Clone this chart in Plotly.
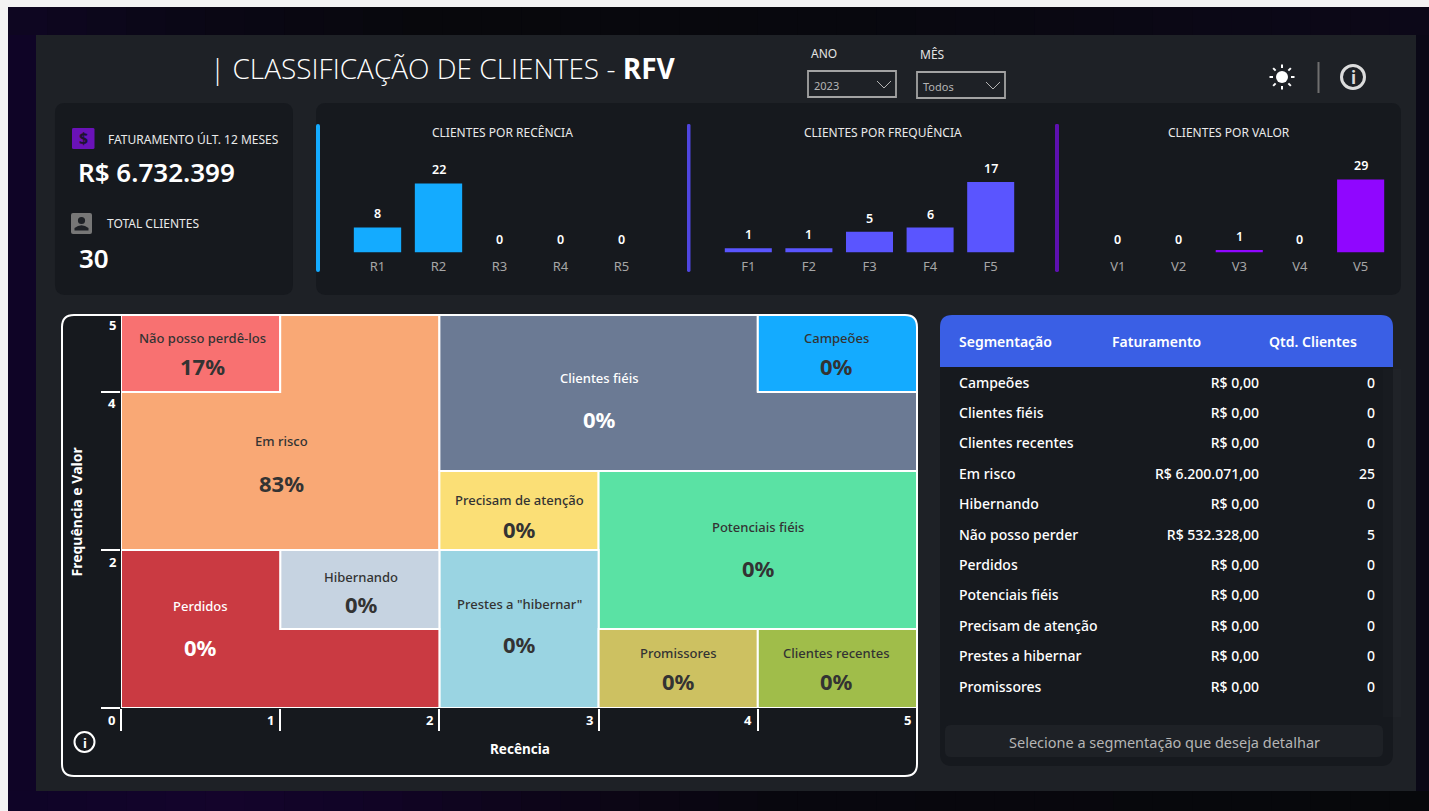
import math
import plotly.graph_objects as go

W, H = 1429, 811
SANS = "Noto Sans"

# ---------- data ----------
rec_cats = ["R1", "R2", "R3", "R4", "R5"]
rec_vals = [8, 22, 0, 0, 0]
freq_cats = ["F1", "F2", "F3", "F4", "F5"]
freq_vals = [1, 1, 5, 6, 17]
val_cats = ["V1", "V2", "V3", "V4", "V5"]
val_vals = [0, 0, 1, 0, 29]

seg_names = ["Não posso perdê-los", "Em risco", "Clientes fiéis", "Campeões",
             "Precisam de atenção", "Potenciais fiéis", 'Prestes a "hibernar"',
             "Promissores", "Clientes recentes", "Hibernando", "Perdidos"]
seg_pct = ["17%", "83%", "0%", "0%", "0%", "0%", "0%", "0%", "0%", "0%", "0%"]
seg_x = [[0, 1, 1, 0], [0, 2, 2, 1, 1, 0], [2, 5, 5, 4, 4, 2], [4, 5, 5, 4],
         [2, 3, 3, 2], [3, 5, 5, 3], [2, 3, 3, 2],
         [3, 4, 4, 3], [4, 5, 5, 4], [1, 2, 2, 1], [0, 2, 2, 1, 1, 0]]
seg_y = [[4, 4, 5, 5], [2, 2, 5, 5, 4, 4], [3, 3, 4, 4, 5, 5], [4, 4, 5, 5],
         [2, 2, 3, 3], [1, 1, 3, 3], [0, 0, 2, 2],
         [0, 0, 1, 1], [0, 0, 1, 1], [1, 1, 2, 2], [0, 0, 1, 1, 2, 2]]
seg_colors = ["#f87171", "#f9a875", "#6b7a94", "#14abff", "#fbdf76", "#5ae2a4",
              "#9ad4e2", "#cdc161", "#a0bd4a", "#c6d3e1", "#ca3a42"]
seg_text_colors = ["#333", "#333", "#fff", "#333", "#333", "#333", "#333",
                   "#333", "#333", "#333", "#fff"]
seg_label_px = [(202, 338, 366), (281, 441, 483), (599, 378, 419), (836, 338, 366),
                (519, 500, 529), (758, 527, 568), (519, 604, 644),
                (678, 653, 681), (836, 653, 681), (361, 577, 604), (200.5, 606, 647)]
x_ticks = [0, 1, 2, 3, 4, 5]
y_ticks = [0, 2, 4, 5]
y_tick_label_px = [(2, 562), (4, 403), (5, 325)]

table_seg = ["Campeões", "Clientes fiéis", "Clientes recentes", "Em risco", "Hibernando",
             "Não posso perder", "Perdidos", "Potenciais fiéis", "Precisam de atenção",
             "Prestes a hibernar", "Promissores"]
table_fat = ["R$ 0,00", "R$ 0,00", "R$ 0,00", "R$ 6.200.071,00", "R$ 0,00", "R$ 532.328,00",
             "R$ 0,00", "R$ 0,00", "R$ 0,00", "R$ 0,00", "R$ 0,00"]
table_qtd = [0, 0, 0, 25, 0, 5, 0, 0, 0, 0, 0]
table_head = ["Segmentação", "Faturamento", "Qtd. Clientes"]

# ---------- pixel helpers ----------
fx = lambda x: x / W
fy = lambda y: 1 - y / H
shapes, annos = [], []


def rect(x0, y0, x1, y1, fill, line=None, lw=0, layer="below"):
    shapes.append(dict(type="rect", xref="paper", yref="paper", x0=fx(x0), x1=fx(x1),
                       y0=fy(y1), y1=fy(y0), fillcolor=fill, layer=layer,
                       line=dict(color=line or "rgba(0,0,0,0)", width=lw)))


def path(points_d, fill="rgba(0,0,0,0)", line=None, lw=0, layer="below"):
    shapes.append(dict(type="path", xref="paper", yref="paper", path=points_d, fillcolor=fill,
                       layer=layer, line=dict(color=line or "rgba(0,0,0,0)", width=lw)))


def P(x, y):
    return f"{fx(x):.6f},{fy(y):.6f}"


def rrect(x0, y0, x1, y1, fill, r=10, line=None, lw=0, bottom=True, layer="below"):
    rb = r if bottom else 0
    d = f"M{P(x0 + r, y0)} L{P(x1 - r, y0)} Q{P(x1, y0)} {P(x1, y0 + r)} L{P(x1, y1 - rb)} "
    if rb:
        d += f"Q{P(x1, y1)} {P(x1 - rb, y1)} "
    d += f"L{P(x0 + rb, y1)} "
    if rb:
        d += f"Q{P(x0, y1)} {P(x0, y1 - rb)} "
    d += f"L{P(x0, y0 + r)} Q{P(x0, y0)} {P(x0 + r, y0)} Z"
    path(d, fill, line, lw, layer)


def circle(cx, cy, r, fill="rgba(0,0,0,0)", line=None, lw=0, layer="above"):
    shapes.append(dict(type="circle", xref="paper", yref="paper", x0=fx(cx - r), x1=fx(cx + r),
                       y0=fy(cy + r), y1=fy(cy - r), fillcolor=fill, layer=layer,
                       line=dict(color=line or "rgba(0,0,0,0)", width=lw)))


def seg(x0, y0, x1, y1, color, lw, layer="above"):
    shapes.append(dict(type="line", xref="paper", yref="paper", x0=fx(x0), x1=fx(x1),
                       y0=fy(y0), y1=fy(y1), layer=layer, line=dict(color=color, width=lw)))


def txt(x, y, text, size=12, color="#fff", anchor="center", family=SANS, weight=None, angle=0):
    font = dict(family=family, size=size, color=color)
    if weight:
        font["weight"] = weight
    annos.append(dict(xref="paper", yref="paper", x=fx(x), y=fy(y), text=text, showarrow=False,
                      xanchor=anchor, yanchor="middle", font=font, textangle=angle,
                      borderpad=0, borderwidth=0))


def mix(stops, t):
    for (t0, c0), (t1, c1) in zip(stops, stops[1:]):
        if t <= t1:
            k = (t - t0) / (t1 - t0)
            return "rgb(%d,%d,%d)" % tuple(round(a + (b - a) * k) for a, b in zip(c0, c1))
    return "rgb(%d,%d,%d)" % stops[-1][1]


def strip_x(x0, x1, y0, y1, stops, n=36):
    for i in range(n):
        a, b = x0 + (x1 - x0) * i / n, x0 + (x1 - x0) * (i + 1) / n
        rect(a, y0, b + 0.5, y1, mix(stops, (i + 0.5) / n))


# ---------- background & panels ----------
PANEL, CARD = "#1e2126", "#16191e"
rect(8, 7, W, H, "#08080c")
strip_x(8, W, 7, 35, [(0, (14, 6, 34)), (0.12, (10, 7, 22)), (0.3, (8, 8, 12)),
                      (0.6, (8, 8, 14)), (0.85, (11, 8, 22)), (1, (12, 8, 24))])
strip_x(8, W, 791, H, [(0, (14, 4, 38)), (0.14, (20, 4, 44)), (0.25, (17, 4, 38)),
                       (0.38, (13, 5, 24)), (0.55, (8, 7, 14)), (1, (7, 8, 11))])
rect(8, 35, 36, 791, "#0f0426")
rect(1416, 35, W, 791, "#0a0816")
rect(36, 35, 1416, 791, PANEL)
rrect(55, 103, 293, 295, CARD, 10)
rrect(316, 103, 1401, 295, CARD, 10)
rrect(62, 315, 917, 776, CARD, 12)
rrect(940, 315, 1393, 766, CARD, 12)
rrect(940, 315, 1393, 367, "#3a5fe5", 12, bottom=False)
rrect(945, 725, 1383, 757, PANEL, 6)

# card strips
rrect(316, 124, 320, 272, "#14abff", 2)
rrect(687, 124, 690.5, 272, "#4f46e0", 1.5)
rrect(1055, 124, 1059, 272, "#5e10b0", 1.5)

# ---------- header ----------
txt(210, 68, "| CLASSIFICAÇÃO DE CLIENTES - <b>RFV</b>", 28, "#fff", "left", "Open Sans", 300)
txt(811, 53.5, "ANO", 12, "#e4e4e4", "left")
txt(920, 54.5, "MÊS", 12, "#e4e4e4", "left")
rect(808, 71, 896, 97, "rgba(0,0,0,0)", "#a3a3a3", 1.8)
rect(917, 72, 1005, 98, "rgba(0,0,0,0)", "#a3a3a3", 1.8)
txt(814, 86, "2023", 11, "#b4b4b4", "left")
txt(923, 86.5, "Todos", 11, "#b4b4b4", "left")
for bx, by in ((877, 81), (986, 82)):
    seg(bx, by, bx + 7, by + 7, "#b4b4b4", 1)
    seg(bx + 7, by + 7, bx + 14, by, "#b4b4b4", 1)

# sun, separator, info icons
circle(1282, 77, 6, "#fff")
for k in range(8):
    a = k * math.pi / 4
    seg(1282 + 9 * math.cos(a), 77 + 9 * math.sin(a), 1282 + 12.5 * math.cos(a),
        77 + 12.5 * math.sin(a), "#fff", 2)
seg(1318.5, 62, 1318.5, 93, "#6f6f6f", 2)
circle(1353, 77, 11.5, line="#dcdcdc", lw=3)
txt(1353, 77.5, "<b>i</b>", 17, "#dcdcdc")

# ---------- KPI ----------
rrect(72, 128, 94.5, 149, "#6a12b8", 1.5)
txt(83.2, 138, "<b>$</b>", 16, "#1d1330")
txt(108, 139.5, "FATURAMENTO ÚLT. 12 MESES", 12, "#eaeaea", "left")
txt(78, 172, "R$ 6.732.399", 26, "#fff", "left", weight=600)
rrect(71, 213, 92, 234, "#777777", 2)
circle(81.5, 220.5, 3.6, "#1e2126", layer="below")
path(f"M{P(74.5, 230.5)} L{P(74.5, 228)} Q{P(81.5, 222.5)} {P(88.5, 228)} L{P(88.5, 230.5)} Z", "#1e2126")
txt(107, 224, "TOTAL CLIENTES", 12, "#eaeaea", "left")
txt(79, 257.5, "30", 26, "#fff", "left", weight=600)

# ---------- small bar panels ----------
txt(502, 132.5, "CLIENTES POR RECÊNCIA", 12, "#eaeaea")
txt(883, 132.5, "CLIENTES POR FREQUÊNCIA", 12, "#eaeaea")
txt(1228.5, 132.5, "CLIENTES POR VALOR", 12, "#eaeaea")

fig = go.Figure()
BASE_Y, TOP_Y = 252.5, 150
bar_specs = [(rec_cats, rec_vals, "#14abff", 347, 652, 3.14, "x", "y"),
             (freq_cats, freq_vals, "#5a55ff", 718, 1021, 4.15, "x2", "y2"),
             (val_cats, val_vals, "#9006ff", 1087.5, 1391, 2.52, "x3", "y3")]
layout_axes = {}
for i, (cats, vals, col, px0, px1, scale, xa, ya) in enumerate(bar_specs):
    fig.add_trace(go.Bar(x=cats, y=vals, cliponaxis=False,
                         marker=dict(color=col, line=dict(width=0)), xaxis=xa, yaxis=ya,
                         hoverinfo="skip", showlegend=False))
    for c, v in zip(cats, vals):
        annos.append(dict(xref=xa, yref=ya, x=c, y=v, text=str(v), showarrow=False,
                          xanchor="center", yanchor="middle", yshift=13.5,
                          font=dict(family=SANS, size=12.5, color="#fff", weight=600)))
    sfx = "" if i == 0 else str(i + 1)
    layout_axes["xaxis" + sfx] = dict(domain=[fx(px0), fx(px1)], range=[-0.5, 4.5], type="category",
                                      showgrid=False, zeroline=False, showline=False, ticks="",
                                      tickfont=dict(family=SANS, size=13, color="#a6a6a6"),
                                      ticklabelstandoff=4,
                                      anchor=ya, categoryorder="array", categoryarray=cats)
    layout_axes["yaxis" + sfx] = dict(domain=[fy(BASE_Y), fy(TOP_Y)],
                                      range=[0, (BASE_Y - TOP_Y) / scale], visible=False,
                                      anchor=xa)

# ---------- RFV matrix ----------
for sx, sy, col, name in zip(seg_x, seg_y, seg_colors, seg_names):
    fig.add_trace(go.Scatter(x=sx + sx[:1], y=sy + sy[:1], mode="lines", fill="toself", fillcolor=col,
                             line=dict(color="#ffffff", width=2), xaxis="x4", yaxis="y4", name=name,
                             hoverinfo="name", showlegend=False))
for name, pct, tc, (lx, ly, py) in zip(seg_names, seg_pct, seg_text_colors, seg_label_px):
    txt(lx, ly, name, 13, tc, weight=500)
    txt(lx, py, pct, 22, tc, weight=700)

layout_axes["xaxis4"] = dict(domain=[fx(121), fx(917)], range=[0, 5], tickvals=x_ticks, ticks="outside",
                             ticklen=22, tickwidth=2, tickcolor="#fff", showticklabels=False,
                             showgrid=False, zeroline=False, showline=False, anchor="y4")
layout_axes["yaxis4"] = dict(domain=[fy(708), fy(315)], range=[0, 4.975], tickvals=y_ticks, ticks="outside",
                             ticklen=19, tickwidth=2, tickcolor="#fff", showticklabels=False,
                             showgrid=False, zeroline=False, showline=False, anchor="x4")
for t in x_ticks:
    annos.append(dict(xref="x4", yref="paper", x=t, y=fy(720), text=f"<b>{t}</b>", showarrow=False,
                      xanchor="right", yanchor="middle", xshift=-4,
                      font=dict(family=SANS, size=13, color="#fff")))
for t, py in y_tick_label_px:
    txt(112, py, f"<b>{t}</b>", 13, "#fff")
txt(520, 749, "<b>Recência</b>", 13.5, "#fff")
txt(75.5, 512, "<b>Frequência e Valor</b>", 14, "#fff", angle=-90)
circle(84.5, 742, 10, line="#fff", lw=2)
txt(84.5, 742.5, "<b>i</b>", 13, "#fff")

# rounded clip of the top-right cell and the white outline above the cells
path(f"M{P(905, 314)} Q{P(917, 315)} {P(917.5, 327)} L{P(918, 314)} Z", PANEL, layer="above")
rrect(62, 315, 917, 776, "rgba(0,0,0,0)", 12, "#ffffff", 2, layer="above")

# ---------- table ----------
fig.add_trace(go.Table(
    domain=dict(x=[fx(951), fx(1383)], y=[fy(718), fy(328)]),
    columnwidth=[153, 163, 116],
    header=dict(values=[table_head[0], table_head[1],
                        table_head[2].replace(" ", "\u00a0") + "\u00a0" * 5],
                fill=dict(color="rgba(0,0,0,0)"), line=dict(width=0, color="rgba(0,0,0,0)"),
                align=["left", "left", "right"], height=41,
                font=dict(family=SANS, size=14, color="#fff", weight=600)),
    cells=dict(values=[[s.replace(" ", "\u00a0") for s in table_seg], table_fat, table_qtd],
               fill=dict(color="rgba(0,0,0,0)"), line=dict(width=0, color="rgba(0,0,0,0)"),
               align=["left", "right", "right"], height=30.4,
               font=dict(family=SANS, size=14, color="#fff", weight=500))))
txt(1164, 741.5, "Selecione a segmentação que deseja detalhar", 14.5, "#b5b5b5")

fig.update_layout(width=W, height=H, margin=dict(l=0, r=0, t=0, b=0), autosize=False,
                  paper_bgcolor="#f3f3f3", plot_bgcolor="rgba(0,0,0,0)", bargap=0.224,
                  showlegend=False, shapes=shapes, annotations=annos,
                  font=dict(family=SANS), **layout_axes)
fig.write_html("out.html", config={"displayModeBar": False},
               post_script="document.body.style.margin='0';document.body.style.overflow='hidden';")
